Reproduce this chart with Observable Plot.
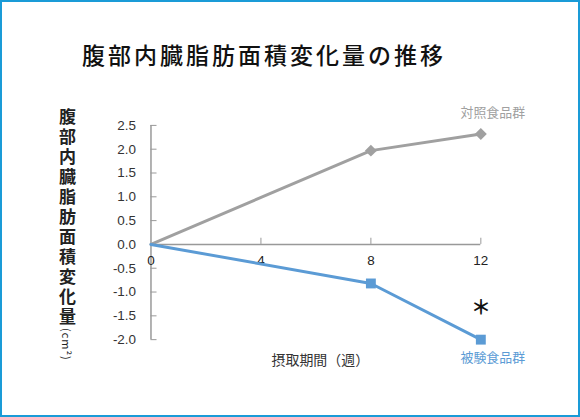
<!DOCTYPE html>
<html>
<head>
<meta charset="utf-8">
<script src="https://cdn.jsdelivr.net/npm/d3@7"></script>
<script src="https://cdn.jsdelivr.net/npm/@observablehq/plot@0.6"></script>
<style>
  body { margin: 0; background: #fff; }
  #wrap {
    position: relative; width: 580px; height: 417px; box-sizing: border-box;
    border: 2px solid #1a9bd7; font-family: "Noto Sans CJK JP", sans-serif; overflow: hidden;
  }
  #title {
    height: 93px; box-sizing: border-box; padding: 38px 0 0 80px;
    font-size: 23px; font-weight: 500; letter-spacing: 3px; color: #111; line-height: 28px;
  }
  #ylabel {
    position: absolute; left: 55px; top: 106px; writing-mode: vertical-rl;
    font-size: 17px; font-weight: 700; letter-spacing: 3px; color: #222; line-height: 20px;
  }
  #ylabel span { font-size: 11px; font-weight: 400; letter-spacing: 1px; }
  #chart { position: absolute; left: -2px; top: 93px; }
</style>
</head>
<body>
<div id="wrap">
  <div id="title">腹部内臓脂肪面積変化量の推移</div>
  <div id="ylabel">腹部内臓脂肪面積変化量<span>(cm²)</span></div>
  <div id="chart"></div>
</div>
<script>
const weeks = [0, 8, 12];
const control = [0, 1.97, 2.32];
const test = [0, -0.82, -2.0];
const seriesNames = ["対照食品群", "被験食品群"];
const xTicks = [0, 4, 8, 12];
const yTicks = [-2.0, -1.5, -1.0, -0.5, 0.0, 0.5, 1.0, 1.5, 2.0, 2.5];
const xLabel = "摂取期間（週）";

const gray = "#a0a0a0";
const blue = "#5b9bd5";

const rowsC = weeks.map((w, i) => ({week: w, value: control[i]}));
const rowsT = weeks.map((w, i) => ({week: w, value: test[i]}));

let chart = Plot.plot({
  width: 580,
  height: 324,
  marginTop: 30,
  marginBottom: 79,
  marginLeft: 151,
  marginRight: 98,
  style: {fontFamily: "'Liberation Sans', Arial, sans-serif", fontSize: "13px", color: "#333"},
  x: {domain: [0, 12], axis: null},
  y: {domain: [-2, 2.5], axis: null},
  marks: [
    Plot.axisY({ticks: yTicks, tickSize: 0, tickPadding: 15, tickFormat: d => d.toFixed(1), fontSize: 13.5, label: null}),
    Plot.ruleY(yTicks, {x1: 0, x2: 0.22, stroke: "#999", strokeWidth: 1}),
    Plot.ruleX([0], {stroke: "#999", strokeWidth: 1.5}),
    Plot.ruleY([0], {x1: 0, x2: 12, stroke: "#999", strokeWidth: 1.5}),
    Plot.ruleX(xTicks.slice(1), {y1: 0, y2: 0.13, stroke: "#999", strokeWidth: 1}),
    Plot.text(xTicks, {x: d => d, y: 0, dy: 16, text: d => String(d), fill: "#222", fontSize: 13.5}),
    Plot.line(rowsC, {x: "week", y: "value", stroke: gray, strokeWidth: 3}),
    Plot.line(rowsT, {x: "week", y: "value", stroke: blue, strokeWidth: 3}),
    Plot.dot(rowsC.slice(1), {x: "week", y: "value", symbol: "square", r: 4.8, rotate: 45, fill: gray}),
    Plot.dot(rowsT.slice(1), {x: "week", y: "value", symbol: "square", r: 5.6, fill: blue}),
    Plot.text([rowsC[2]], {x: "week", y: "value", dx: 12, dy: -21, text: () => seriesNames[0], fill: gray,
      fontSize: 13, fontFamily: "'Noto Sans CJK JP', sans-serif"}),
    Plot.text([rowsT[2]], {x: "week", y: "value", dx: 12, dy: 18, text: () => seriesNames[1], fill: blue,
      fontSize: 13, fontFamily: "'Noto Sans CJK JP', sans-serif"}),
    Plot.text([rowsT[2]], {x: "week", y: "value", dy: -31, text: () => "＊", fill: "#111",
      fontSize: 20, fontWeight: "bold", fontFamily: "'Noto Sans CJK JP', sans-serif"}),
    Plot.text([xLabel], {frameAnchor: "bottom-left", dx: 121, dy: 25, textAnchor: "start", fill: "#333",
      fontSize: 14, fontFamily: "'Noto Sans CJK JP', sans-serif"})
  ]
});
d3.select("#chart").append(() => chart);
</script>
</body>
</html>
